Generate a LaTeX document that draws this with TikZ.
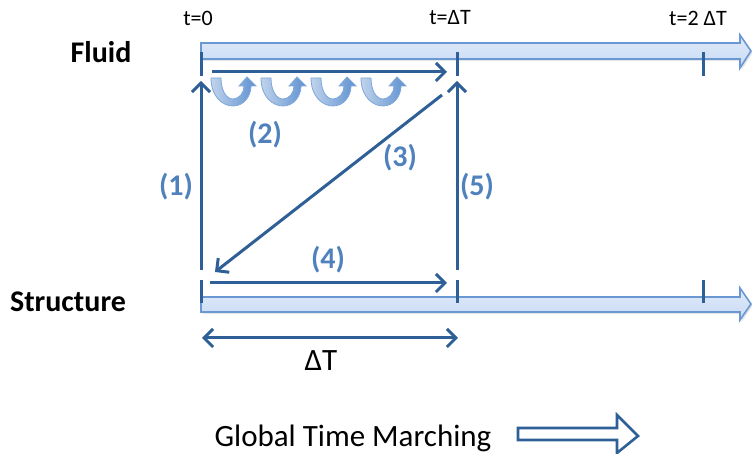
\documentclass[tikz,border=0pt]{standalone}
\usepackage{fontspec}
\setmainfont{Carlito}
\usetikzlibrary{arrows.meta,positioning,shadows}
\definecolor{tmdark}{RGB}{46,95,150}
\definecolor{tmlabel}{RGB}{79,129,189}
\definecolor{tmbar}{RGB}{200,218,245}
\definecolor{tmbarline}{RGB}{105,152,210}
\definecolor{tmcurl}{RGB}{95,145,208}

\begin{document}
\begin{tikzpicture}[
  x=0.5pt,y=-0.5pt,
  every node/.style={font=\fontsize{15.5}{18}\selectfont,inner sep=0pt},
  small/.style={font=\fontsize{11}{13}\selectfont},
  steplabel/.style={font=\fontsize{15}{18}\selectfont\bfseries,text=tmlabel},
  timebar/.style={draw=tmbarline,line width=0.8pt,top color=tmbar!55,bottom color=tmbar,
                  drop shadow={opacity=0.2,shadow xshift=0.8pt,shadow yshift=-1pt}},
  tickmark/.style={draw=tmdark,line width=1.5pt},
  flowarrow/.style={draw=tmdark,line width=1.5pt,-{Straight Barb[length=4.5pt,width=9pt]}},
  curl/.style={draw=tmcurl!80,line width=0.4pt,left color=tmcurl!40,right color=tmcurl},
]
  \useasboundingbox (0,0) rectangle (752,454);

  % Time axes
  \path[timebar] (201,43) -- (740,43) -- (740,35) -- (751,51) -- (740,68) -- (740,59) -- (201,59) -- cycle;
  \path[timebar] (201,297) -- (740,297) -- (740,288) -- (751,304) -- (740,320) -- (740,312) -- (201,312) -- cycle;
  \foreach \tx in {201,457,703} {
    \draw[tickmark] (\tx,52) -- (\tx,76);
    \draw[tickmark] (\tx,280) -- (\tx,303);
  }

  \node[font=\fontsize{15}{18}\selectfont\bfseries] (fluid) at (101,52) {Fluid};
  \node[font=\fontsize{15}{18}\selectfont\bfseries] (struct) at (68,302) {Structure};
  \node[small] (t0) at (198,18) {t=0};
  \node[small] (t1) at (450,18) {t=ΔT};
  \node[small] (t2) at (698,18) {t=2 ΔT};

  % Sub-cycling of the fluid
  \foreach \cx in {211,261,311,361} {
    \path[curl,shift={(\cx,78)}] (0,0) .. controls (0,19) and (12,28) .. (22,28)
      .. controls (33,28) and (40,18) .. (40,8) -- (45,8) -- (36,-1) -- (28,8) -- (33,8)
      .. controls (33,15) and (28,21) .. (22,21) .. controls (15,21) and (10,12) .. (10,0) -- cycle;
  }

  % Coupling steps
  \coordinate (f0) at (201,81);
  \coordinate (s0) at (201,270);
  \coordinate (f1) at (457,81);
  \coordinate (s1) at (457,270);
  \coordinate (f0r) at (212,72);
  \coordinate (f1l) at (447,72);
  \coordinate (f1d) at (442,95);
  \coordinate (s0d) at (215,272);
  \coordinate (s0r) at (210,283);
  \coordinate (s1l) at (447,283);

  \draw[flowarrow] (s0) -- (f0);
  \draw[flowarrow] (f0r) -- (f1l);
  \draw[flowarrow] (f1d) -- (s0d);
  \draw[flowarrow] (s0r) -- (s1l);
  \draw[flowarrow] (s1) -- (f1);

  \node[steplabel] (n1) at (176,187) {(1)};
  \node[steplabel] (n2) at (265,135) {(2)};
  \node[steplabel] (n3) at (400,158) {(3)};
  \node[steplabel] (n4) at (328,260) {(4)};
  \node[steplabel] (n5) at (477,187) {(5)};

  % Time step
  \coordinate (dtl) at (202,338);
  \coordinate (dtr) at (458,338);
  \draw[flowarrow,{Straight Barb[length=4.5pt,width=9pt]}-{Straight Barb[length=4.5pt,width=9pt]}] (dtl) -- (dtr);
  \node (dt) at (321,361) {ΔT};

  % Global marching
  \node (march) at (353,438) {Global Time Marching};
  \draw[draw=tmdark,line width=1.3pt,fill=white] (518,428) -- (617,428) -- (617,415) -- (638,436)
    -- (617,453) -- (617,440) -- (518,440) -- cycle;
\end{tikzpicture}
\end{document}
